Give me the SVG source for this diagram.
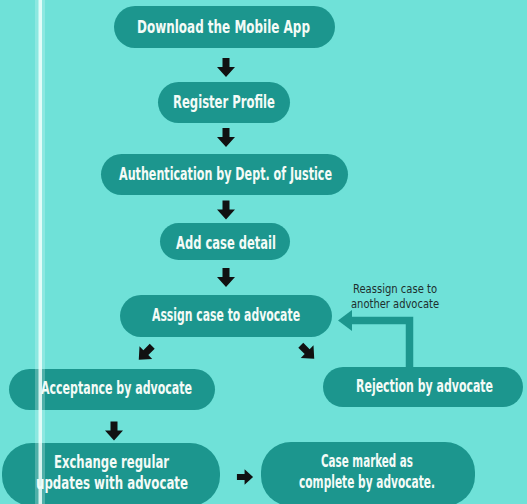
<svg xmlns="http://www.w3.org/2000/svg" xmlns:xlink="http://www.w3.org/1999/xlink" width="527" height="504" viewBox="0 0 527 504">
<style>
.node{fill:#1c968e}
.t{fill:#f4fbf7;font-family:"Liberation Sans Narrow","DejaVu Sans Condensed","Liberation Sans",sans-serif;font-weight:bold;font-size:18px;text-anchor:middle}
.lbl{fill:#1d2f2e;font-family:"Liberation Sans Narrow","DejaVu Sans Condensed","Liberation Sans",sans-serif;font-size:12px;text-anchor:middle}
.arr{fill:#111}
</style>
<defs>
<path id="barrow" d="M-3.5,-9.5 H3.5 V-0.5 H9 L0,9.5 L-9,-0.5 H-3.5 Z"/>
</defs>
<rect width="527" height="504" fill="#6fe1d8"/>
<g id="connectors">
<use xlink:href="#barrow" class="arr" transform="translate(226,67.5)"/>
<use xlink:href="#barrow" class="arr" transform="translate(226,137.5)"/>
<use xlink:href="#barrow" class="arr" transform="translate(226,210)"/>
<use xlink:href="#barrow" class="arr" transform="translate(226,277.5)"/>
<use xlink:href="#barrow" class="arr" transform="translate(145.5,353) rotate(45)"/>
<use xlink:href="#barrow" class="arr" transform="translate(307.5,352) rotate(-45)"/>
<use xlink:href="#barrow" class="arr" transform="translate(114,431)"/>
<use xlink:href="#barrow" class="arr" transform="translate(245,477) rotate(-90) scale(0.85)"/>
<path d="M409.5,367 V320.5 H350" fill="none" stroke="#1c968e" stroke-width="7.5"/>
<polygon points="352,310 338,320.5 352,331" fill="#1c968e"/>
<text class="lbl" x="395" y="292.5" textLength="84" lengthAdjust="spacingAndGlyphs">Reassign case to</text>
<text class="lbl" x="395" y="308" textLength="88" lengthAdjust="spacingAndGlyphs">another advocate</text>
</g>
<g id="n1"><rect class="node" x="114" y="6" width="221" height="42" rx="21"/><text class="t" x="223.5" y="33" textLength="173" lengthAdjust="spacingAndGlyphs">Download the Mobile App</text></g>
<g id="n2"><rect class="node" x="158" y="82" width="132" height="41" rx="20.5"/><text class="t" x="224" y="108" textLength="102" lengthAdjust="spacingAndGlyphs">Register Profile</text></g>
<g id="n3"><rect class="node" x="101" y="154" width="247" height="41" rx="20.5"/><text class="t" x="225.5" y="180" textLength="213" lengthAdjust="spacingAndGlyphs">Authentication by Dept. of Justice</text></g>
<g id="n4"><rect class="node" x="160" y="223" width="130" height="37" rx="18.5"/><text class="t" x="226" y="249" textLength="100" lengthAdjust="spacingAndGlyphs">Add case detail</text></g>
<g id="n5"><rect class="node" x="120" y="295" width="212" height="42" rx="21"/><text class="t" x="226" y="321" textLength="148" lengthAdjust="spacingAndGlyphs">Assign case to advocate</text></g>
<g id="n6"><rect class="node" x="9" y="369" width="206" height="41" rx="20.5"/><text class="t" x="116.5" y="394" textLength="151" lengthAdjust="spacingAndGlyphs">Acceptance by advocate</text></g>
<g id="n7"><rect class="node" x="323" y="367" width="200" height="40" rx="20"/><text class="t" x="424.5" y="392" textLength="137" lengthAdjust="spacingAndGlyphs">Rejection by advocate</text></g>
<g id="n8"><rect class="node" x="2" y="443" width="218" height="63" rx="30"/><text class="t" x="111.5" y="468" textLength="115" lengthAdjust="spacingAndGlyphs">Exchange regular</text><text class="t" x="112" y="489" textLength="152" lengthAdjust="spacingAndGlyphs">updates with advocate</text></g>
<g id="n9"><rect class="node" x="261" y="442" width="214" height="64" rx="30"/><text class="t" x="367" y="467" textLength="92" lengthAdjust="spacingAndGlyphs">Case marked as</text><text class="t" x="367" y="488" textLength="136" lengthAdjust="spacingAndGlyphs">complete by advocate.</text></g>
<rect x="35" y="0" width="10" height="504" fill="#e8fffb" opacity="0.25"/>
<rect x="38.5" y="0" width="3.5" height="504" fill="#effffc" opacity="0.85"/>
</svg>
